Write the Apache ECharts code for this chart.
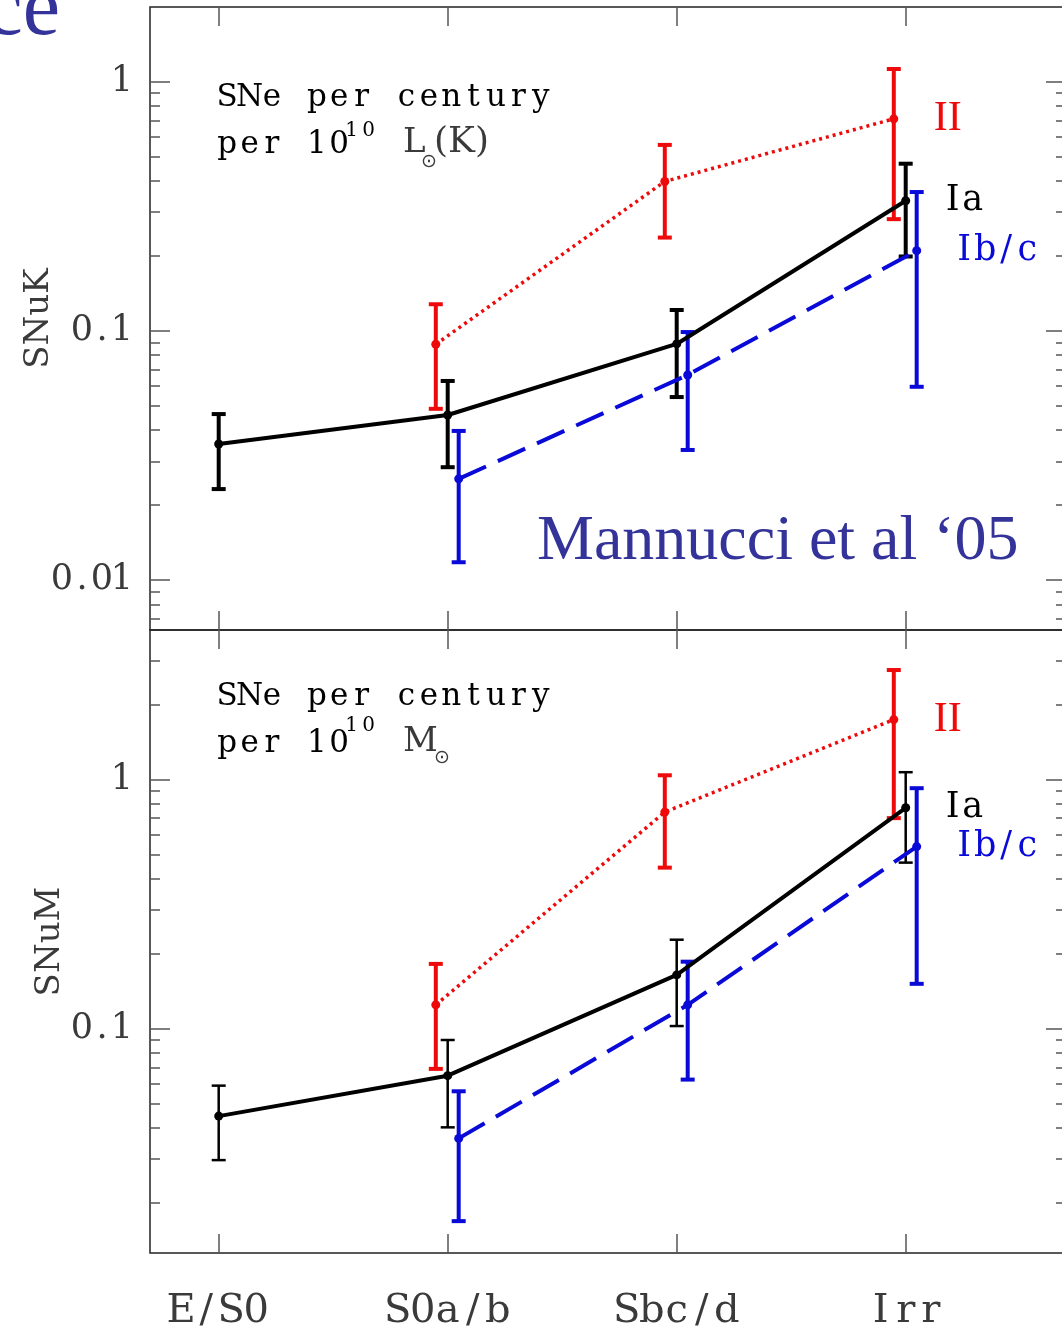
<!DOCTYPE html>
<html>
<head>
<meta charset="utf-8">
<script src="https://cdn.jsdelivr.net/npm/echarts@6/dist/echarts.min.js"></script>
<style>
html, body { margin: 0; padding: 0; background: #fff; overflow: hidden; }
#chart { width: 1070px; height: 1330px; }
</style>
</head>
<body>
<div id="chart"></div>
<script>
// 横轴分类（星系形态）
const categories = ['E/S0', 'S0a/b', 'Sbc/d', 'Irr']

// 上图：SNuK
const snukIa    = [0.0352, 0.046, 0.0887, 0.333]
const snukIaLo  = [0.0232, 0.0284, 0.0543, 0.199]
const snukIaHi  = [0.0464, 0.063, 0.1214, 0.469]
const snukII    = [null, 0.0884, 0.398, 0.71]
const snukIILo  = [null, 0.0487, 0.237, 0.281]
const snukIIHi  = [null, 0.128, 0.558, 1.125]
const snukIbc   = [null, 0.0255, 0.0666, 0.21]
const snukIbcLo = [null, 0.0118, 0.0333, 0.0597]
const snukIbcHi = [null, 0.0397, 0.099, 0.361]

// 下图：SNuM
const snumIa    = [0.0446, 0.0648, 0.1644, 0.77]
const snumIaLo  = [0.0297, 0.0402, 0.1025, 0.464]
const snumIaHi  = [0.0591, 0.0901, 0.2276, 1.07]
const snumII    = [null, 0.1247, 0.74, 1.74]
const snumIILo  = [null, 0.069, 0.443, 0.70]
const snumIIHi  = [null, 0.182, 1.04, 2.75]
const snumIbc   = [null, 0.0363, 0.1247, 0.538]
const snumIbcLo = [null, 0.0169, 0.0625, 0.1514]
const snumIbcHi = [null, 0.0561, 0.1858, 0.923]

// 纵轴刻度
const snukMajor = [0.01, 0.1, 1]
const snumMajor = [0.1, 1]
const snukRange = [Math.pow(10, -2.2), Math.pow(10, 0.3)]
const snumRange = [Math.pow(10, -1.9), Math.pow(10, 0.6)]

const TT = '"DejaVu Serif", serif'          // 打字机风格：逐字等宽格子
const SERIF = '"Liberation Serif", serif'
const RED = '#ee0a0a'
const BLUE = '#0a0ad8'
const BLACK = '#000'
const TICK = '#555'
const INK = '#3a3a3a'

// 把字符串拆成等宽格子（rich text）
function tt(str, key) {
  return str.split('').map(c => `{${key}|${c}}`).join('')
}
function cell(size, width, color) {
  return { fontFamily: TT, fontSize: size, width, align: 'center', color: color || INK }
}

// 对数轴次刻度 2..9 × 10^k
function minorTicks(range) {
  const out = []
  for (let k = -4; k <= 1; k++) {
    for (let m = 2; m <= 9; m++) {
      const v = m * Math.pow(10, k)
      if (v > range[0] && v < range[1]) out.push(v)
    }
  }
  return out
}

function xAxes(p) {
  const base = {
    gridIndex: p, type: 'value', min: 0.7, max: 4.7,
    axisLine: { show: false }, splitLine: { show: false }
  }
  const tick = { inside: true, length: 19, customValues: [1, 2, 3, 4], lineStyle: { color: TICK, width: 1.5 } }
  return [
    {
      ...base, position: 'bottom', axisTick: tick,
      axisLabel: p === 1 ? {
        customValues: [1, 2, 3, 4],
        formatter: v => tt(categories[Math.round(v) - 1], 'c'),
        margin: 39,
        rich: { c: cell(40, 25) }
      } : { show: false }
    },
    { ...base, position: 'top', axisTick: tick, axisLabel: { show: false } }
  ]
}

function yAxes(p, range, major, name, nameGap) {
  const base = {
    gridIndex: p, type: 'log', logBase: 10, min: range[0], max: range[1],
    axisLine: { show: false }, splitLine: { show: false }, minorTick: { show: false }
  }
  const minor = minorTicks(range)
  const majTick = { inside: true, length: 20, customValues: major, lineStyle: { color: TICK, width: 1.5 } }
  const minTick = { inside: true, length: 10, customValues: minor, lineStyle: { color: TICK, width: 1.5 } }
  return [
    {
      ...base, position: 'left', axisTick: majTick,
      axisLabel: {
        customValues: major,
        formatter: v => tt(String(+v.toPrecision(3)), 'c'),
        margin: 18,
        rich: { c: cell(35, 20) }
      },
      name, nameLocation: 'middle', nameRotate: 90, nameGap, nameMoveOverlap: false,
      nameTextStyle: { fontFamily: TT, fontSize: 34, color: INK }
    },
    { ...base, position: 'left', axisTick: minTick, axisLabel: { show: false } },
    { ...base, position: 'right', axisTick: majTick, axisLabel: { show: false } },
    { ...base, position: 'right', axisTick: minTick, axisLabel: { show: false } }
  ]
}

// 误差棒
function errRender(color, width) {
  return function (params, api) {
    const x = api.value(0)
    const lo = api.coord([x, api.value(1)])
    const hi = api.coord([x, api.value(2)])
    const w = 7
    const st = { stroke: color, lineWidth: width }
    return {
      type: 'group',
      children: [
        { type: 'line', shape: { x1: lo[0], y1: lo[1], x2: hi[0], y2: hi[1] }, style: st },
        { type: 'line', shape: { x1: lo[0] - w, y1: lo[1], x2: lo[0] + w, y2: lo[1] }, style: st },
        { type: 'line', shape: { x1: hi[0] - w, y1: hi[1], x2: hi[0] + w, y2: hi[1] }, style: st }
      ]
    }
  }
}

// 同一分类下三种类型左右错开
const DODGE = { Ia: 0, II: -0.052, Ibc: 0.048 }
const LINE_TYPE = { dotted: [3, 4], dashed: [30, 13], solid: 'solid' }

function endLabel(name, color) {
  if (name === 'II') {
    return { show: true, formatter: name, distance: 40, color, fontFamily: SERIF, fontSize: 42 }
  }
  return {
    show: true, distance: 37,
    formatter: () => tt(name, 'e'),
    rich: { e: cell(35, name === 'Ia' ? 20 : 21, color) }
  }
}

function panelSeries(p, name, vals, lo, hi, color, dodge, lineType, errWidth) {
  const xi = p * 2
  const yi = p * 4
  const pts = []
  const errs = []
  vals.forEach((v, i) => {
    if (v == null) return
    pts.push([i + 1 + dodge, v])
    errs.push([i + 1 + dodge, lo[i], hi[i]])
  })
  return [
    {
      type: 'custom', xAxisIndex: xi, yAxisIndex: yi,
      renderItem: errRender(color, errWidth), data: errs,
      encode: { x: 0, y: [1, 2] }, silent: true, z: 2
    },
    {
      type: 'line', name, xAxisIndex: xi, yAxisIndex: yi, data: pts,
      symbol: 'circle', symbolSize: 9, itemStyle: { color },
      lineStyle: { color, width: lineType === 'dotted' ? 3.5 : 4, type: LINE_TYPE[lineType] },
      endLabel: endLabel(name, color),
      z: 3
    }
  ]
}

// 注释文字（像素位置）
function notes(top, unit, subDy, supDy) {
  const rich = { a: cell(31, 22.4), s: cell(20, 17) }
  const els = [
    { type: 'text', x: 216, y: top, style: { text: tt('SNe per century', 'a'), rich, verticalAlign: 'middle' } },
    { type: 'text', x: 216, y: top + 47, style: { text: tt('per 10', 'a'), rich, verticalAlign: 'middle' } },
    { type: 'text', x: 343, y: top + supDy, style: { text: tt('10', 's'), rich, verticalAlign: 'middle' } },
    { type: 'text', x: 403, y: top + 45, style: { text: unit, font: '34px ' + TT, fill: INK, verticalAlign: 'middle' } },
    { type: 'text', x: unit === 'L' ? 421 : 434, y: top + subDy, style: { text: '⊙', font: '19px "DejaVu Sans"', fill: INK, verticalAlign: 'middle' } }
  ]
  if (unit === 'L') {
    els.push({ type: 'text', x: 434, y: top + 45, style: { text: '(K)', font: '36px ' + TT, fill: INK, verticalAlign: 'middle' } })
  }
  return els
}

const chart = echarts.init(document.getElementById('chart'), null, { renderer: 'canvas' })

chart.setOption({
  animation: false,
  backgroundColor: '#fff',
  grid: [
    { left: 150, top: 7, width: 916, height: 623, show: true, borderColor: '#222', borderWidth: 1.5, backgroundColor: 'transparent', outerBoundsMode: 'none' },
    { left: 150, top: 630, width: 916, height: 623, show: true, borderColor: '#222', borderWidth: 1.5, backgroundColor: 'transparent', outerBoundsMode: 'none' }
  ],
  xAxis: [...xAxes(0), ...xAxes(1)],
  yAxis: [
    ...yAxes(0, snukRange, snukMajor, 'SNuK', 94),
    ...yAxes(1, snumRange, snumMajor, 'SNuM', 83)
  ],
  series: [
    ...panelSeries(0, 'II', snukII, snukIILo, snukIIHi, RED, DODGE.II, 'dotted', 4),
    ...panelSeries(0, 'Ib/c', snukIbc, snukIbcLo, snukIbcHi, BLUE, DODGE.Ibc, 'dashed', 4),
    ...panelSeries(0, 'Ia', snukIa, snukIaLo, snukIaHi, BLACK, DODGE.Ia, 'solid', 4),
    ...panelSeries(1, 'II', snumII, snumIILo, snumIIHi, RED, DODGE.II, 'dotted', 4),
    ...panelSeries(1, 'Ib/c', snumIbc, snumIbcLo, snumIbcHi, BLUE, DODGE.Ibc, 'dashed', 4),
    ...panelSeries(1, 'Ia', snumIa, snumIaLo, snumIaHi, BLACK, DODGE.Ia, 'solid', 2.5)
  ],
  graphic: [
    ...notes(98, 'L', 64, 33),
    ...notes(697, 'M', 61, 29),
    { type: 'text', x: 537, y: 542, style: { text: 'Mannucci et al ‘05', font: '64px ' + SERIF, fill: '#333399', verticalAlign: 'middle' } },
    { type: 'text', x: 60, y: 12, style: { text: 'ce', font: '84px ' + SERIF, fill: '#333399', align: 'right', verticalAlign: 'middle' } }
  ]
})
</script>
</body>
</html>
